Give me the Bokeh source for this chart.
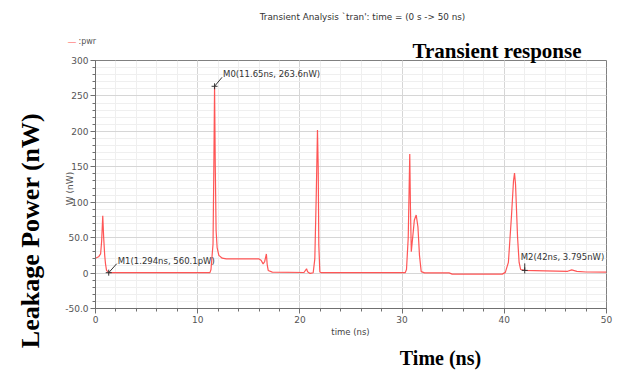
import math
from bokeh.plotting import figure
from bokeh.models import Range1d, FixedTicker, Label
from bokeh.embed import file_html
from bokeh.resources import INLINE

# ---- data ----
time_ns = [0.0, 0.3, 0.5, 0.6, 0.71, 0.8, 0.9, 0.98, 1.08, 1.294, 5.0, 11.2,
           11.3, 11.5, 11.58, 11.65, 11.72, 11.8, 11.9, 12.07, 12.4, 12.8,
           16.0, 16.2, 16.4, 16.55, 16.72, 16.8, 16.9, 17.3, 20.4, 20.55, 20.65,
           20.75, 21.0, 21.3, 21.46, 21.6, 21.72, 21.79, 21.85, 21.95, 22.1,
           30.3, 30.43, 30.6, 30.75, 30.82, 30.9, 31.0, 31.2, 31.38, 31.55,
           31.7, 31.87, 32.2, 34.6, 34.9, 39.8, 40.1, 40.4, 40.7, 40.9, 41.0,
           41.1, 41.3, 41.45, 41.6, 42.0, 44.0, 46.2, 46.6, 47.1, 48.0, 50.0]
power_nw = [21.0, 23.0, 27.0, 45.0, 81.0, 50.0, 25.0, 13.0, 3.7, 0.56, 0.6, 0.6,
            5.0, 41.0, 150.0, 263.6, 150.0, 60.0, 36.0, 25.0, 21.0, 20.0,
            20.0, 18.0, 13.0, 16.0, 27.0, 12.0, 3.7, 1.3, 0.8, 4.0, 6.0,
            2.0, -0.5, 0.5, 20.0, 110.0, 202.0, 150.0, 40.0, 1.5, 0.5,
            0.5, 5.0, 50.0, 168.0, 90.0, 30.0, 45.0, 75.0, 82.0, 65.0,
            25.0, 2.0, 0.3, 0.2, -1.5, -1.5, 1.0, 15.0, 80.0, 130.0, 141.0,
            125.0, 50.0, 15.0, 5.0, 3.8, 3.2, 2.5, 4.5, 2.5, 1.5, 1.2]

marker_names = ["M0", "M1", "M2"]
marker_t = [11.65, 1.294, 42.0]
marker_p = [263.6, 0.5601, 3.795]
marker_text = ["M0(11.65ns, 263.6nW)", "M1(1.294ns, 560.1pW)", "M2(42ns, 3.795nW)"]

x_ticks = [0, 10, 20, 30, 40, 50]
x_minor = [v for v in range(0, 51, 2)]
y_ticks = [-50, 0, 50, 100, 150, 200, 250, 300]
y_minor = [v for v in range(-50, 301, 10)]
y_tick_labels = {-50: "-50.0", 0: "0", 50: "50.0", 100: "100", 150: "150",
                 200: "200", 250: "250", 300: "300"}

title_text = "Transient Analysis `tran': time = (0 s -> 50 ns)"
series_name = ":pwr"

# ---- figure ----
p = figure(width=614, height=370, output_backend="svg", toolbar_location=None,
           x_range=Range1d(0, 50), y_range=Range1d(-50, 300),
           min_border_left=95, min_border_right=8, min_border_top=60,
           min_border_bottom=62)
p.background_fill_color = "white"
p.border_fill_color = "white"
p.outline_line_color = "#808080"
p.outline_line_width = 1

p.xaxis.ticker = FixedTicker(ticks=x_ticks, minor_ticks=x_minor)
p.yaxis.ticker = FixedTicker(ticks=y_ticks, minor_ticks=y_minor)
p.yaxis.major_label_overrides = y_tick_labels

for ax in (p.xaxis[0], p.yaxis[0]):
    ax.axis_line_color = "#707070"
    ax.major_tick_line_color = "#707070"
    ax.minor_tick_line_color = "#707070"
    ax.major_tick_in = 0
    ax.major_tick_out = 5
    ax.minor_tick_in = 0
    ax.minor_tick_out = 3
    ax.major_label_text_font = "DejaVu Sans"
    ax.major_label_text_font_size = "9px"
    ax.major_label_text_color = "#555555"
    ax.major_label_standoff = 2

p.xgrid.grid_line_color = "#d6d6d6"
p.ygrid.grid_line_color = "#d6d6d6"
p.xgrid.minor_grid_line_color = "#efefef"
p.ygrid.minor_grid_line_color = "#efefef"

p.line(time_ns, power_nw, line_color="#ff4444", line_width=1.2, line_alpha=0.9)

# markers
p.scatter(marker_t, marker_p, marker="cross", size=6, line_color="#333333", line_width=1)
px_per_ns = 10.22
px_per_nw = 0.7086
lead = {"M0": (7.5, 9.0), "M1": (8.0, 9.0), "M2": (0.0, 7.0)}
label_off = {"M0": (8.5, 7.0), "M1": (9.0, 7.0), "M2": (-4.0, 8.0)}
for name, t, pw, txt in zip(marker_names, marker_t, marker_p, marker_text):
    dx, dy = lead[name]
    p.segment(x0=[t], y0=[pw], x1=[t + dx / px_per_ns], y1=[pw + dy / px_per_nw],
              line_color="#333333", line_width=1)
    xo, yo = label_off[name]
    p.add_layout(Label(x=t, y=pw, x_offset=xo, y_offset=yo, text=txt,
                       text_font="DejaVu Sans", text_font_size="8.5px",
                       text_color="#333333", text_baseline="bottom", text_align="left"))

def canvas_label(panel, x, y, text, size, font="DejaVu Sans", bold=False, color="#333333",
                 align="left", baseline="middle", angle=0.0):
    p.add_layout(Label(x=x, y=y, x_units="canvas", y_units="canvas", text=text,
                       text_font=font, text_font_size=size,
                       text_font_style="bold" if bold else "normal",
                       text_color=color, text_align=align, text_baseline=baseline,
                       angle=angle), panel)

canvas_label("above", 362, 16, title_text, "8.8px", align="center")
canvas_label("above", 67, 41, "\u2014", "9px", color="#ff5050")
canvas_label("above", 78, 41, series_name, "8px", color="#555555")
canvas_label("above", 412, 50, "Transient response", "21px", font="Liberation Serif",
             bold=True, color="#000000")
canvas_label("left", 30, 230, "Leakage Power (nW)", "26px", font="Liberation Serif",
             bold=True, color="#000000", align="center", angle=math.pi / 2)
canvas_label("left", 69, 188, "W (nW)", "9px", color="#555555", align="center",
             angle=math.pi / 2)
canvas_label("below", 350, 331, "time (ns)", "8.5px", color="#444444", align="center")
canvas_label("below", 440, 357, "Time (ns)", "20px", font="Liberation Serif", bold=True,
             color="#000000", align="center")

open("out.html", "w").write(file_html(p, INLINE))
